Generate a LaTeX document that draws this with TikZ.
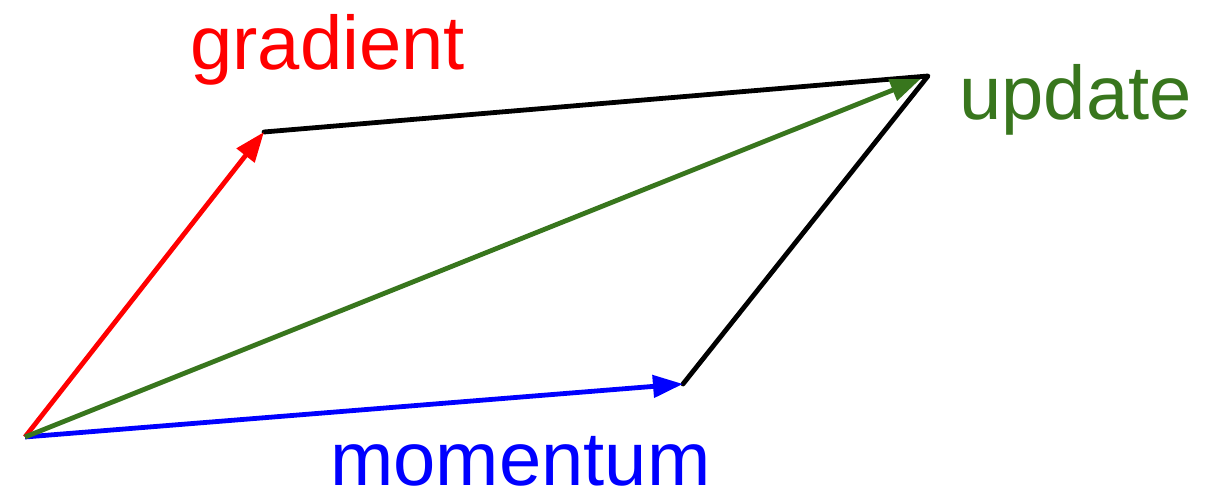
\documentclass[tikz,border=0pt]{standalone}
\usepackage{fontspec}
\setmainfont{Liberation Sans}
\usetikzlibrary{arrows.meta}

\definecolor{gradred}{RGB}{255,0,0}
\definecolor{momblue}{RGB}{0,0,255}
\definecolor{updgreen}{RGB}{56,118,29}

\begin{document}
\begin{tikzpicture}[
    x=0.5pt, y=0.5pt,
    vec/.style={line width=2.4pt, -{Triangle[length=15pt, width=11pt]}},
    side/.style={line width=2.4pt, line cap=round, line join=round},
    lbl/.style={anchor=base west, inner sep=0pt, font=\fontsize{38}{40}\selectfont}
  ]
    \useasboundingbox (0,0) rectangle (1220,502);
    \coordinate (o) at (25,65);
    \coordinate (g) at (264,370);
    \coordinate (m) at (683,118);
    \coordinate (u) at (928,426);
    \draw[side] (g) -- (u) -- (m);
    \draw[vec, gradred] (o) -- (g);
    \draw[vec, momblue] (o) -- (m);
    \draw[vec, updgreen, shorten >=4pt] (o) -- (u);
    \node[lbl, text=gradred] (gradlbl) at (190,432) {gradient};
    \node[lbl, text=updgreen] (updlbl) at (959,382) {update};
    \node[lbl, text=momblue] (momlbl) at (330,16) {momentum};
  \end{tikzpicture}
\end{document}
